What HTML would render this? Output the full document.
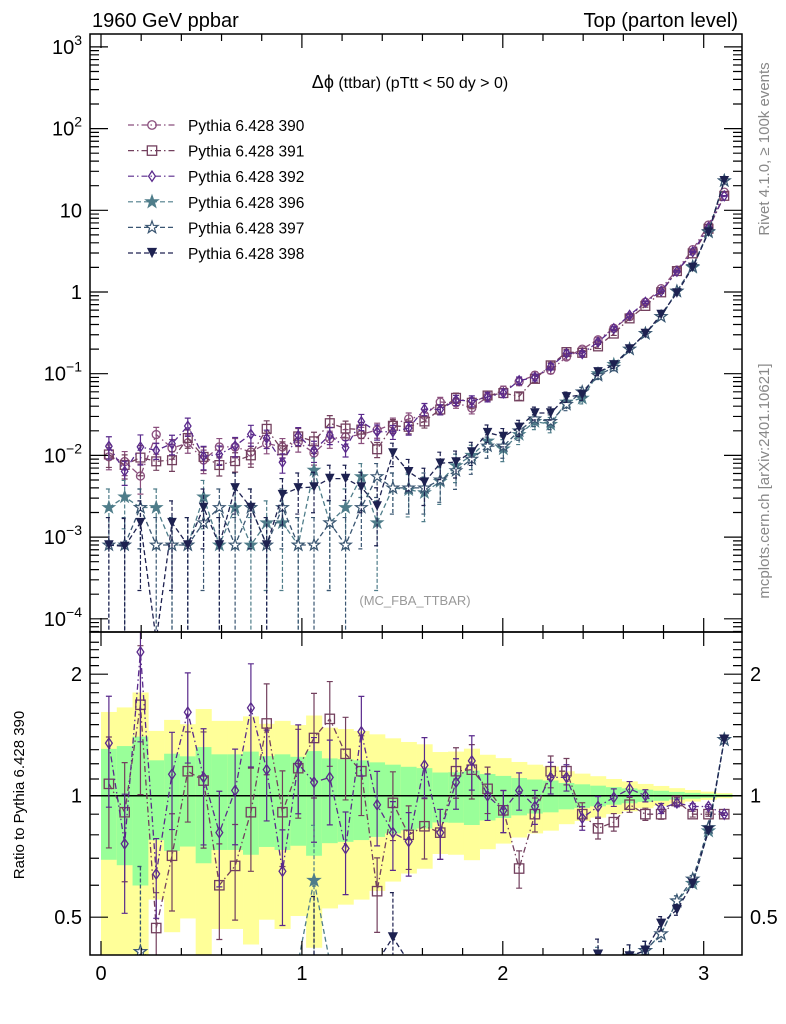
<!DOCTYPE html>
<html><head><meta charset="utf-8">
<style>
html,body{margin:0;padding:0;background:#fff;width:786px;height:1024px;overflow:hidden;}
svg{display:block;font-family:"Liberation Sans",sans-serif;}
</style></head>
<body>
<svg id="chart" width="786" height="1024" viewBox="0 0 786 1024">
<defs>
<clipPath id="clipMain"><rect x="90" y="34" width="652" height="598"/></clipPath>
<clipPath id="clipRatio"><rect x="90" y="632" width="652" height="323"/></clipPath>
</defs>
<g id="bands" clip-path="url(#clipRatio)"></g>
<g id="mainSeries" clip-path="url(#clipMain)"></g>
<g id="ratioSeries" clip-path="url(#clipRatio)"></g>
<g id="axes"></g>
<text x="92" y="27" font-size="20">1960 GeV ppbar</text>
<text x="738" y="27" font-size="20" text-anchor="end">Top (parton level)</text>
<text x="410" y="88" font-size="16" text-anchor="middle"><tspan font-size="18">Δϕ</tspan> (ttbar) (pTtt &lt; 50 dy &gt; 0)</text>
<text x="415" y="605" font-size="13" fill="#999" text-anchor="middle">(MC_FBA_TTBAR)</text>
<text transform="translate(769,149) rotate(-90)" font-size="15" fill="#888" text-anchor="middle">Rivet 4.1.0, ≥ 100k events</text>
<text transform="translate(769,481) rotate(-90)" font-size="15" fill="#888" text-anchor="middle">mcplots.cern.ch [arXiv:2401.10621]</text>
<text transform="translate(24,795) rotate(-90)" font-size="15" text-anchor="middle">Ratio to Pythia 6.428 390</text>
<g id="legend"></g>
</svg>
<script>
const nBins = 40;
const binWidth = Math.PI / 40;
const labels = ["Pythia 6.428 390","Pythia 6.428 391","Pythia 6.428 392","Pythia 6.428 396","Pythia 6.428 397","Pythia 6.428 398"];
const v390 = [0.0096,0.0084,0.0056,0.018,0.0123,0.0142,0.0088,0.0127,0.0127,0.011,0.014,0.0127,0.0146,0.0107,0.016,0.0168,0.018,0.0205,0.024,0.028,0.031,0.045,0.044,0.038,0.052,0.063,0.08,0.096,0.11,0.16,0.2,0.26,0.36,0.5,0.75,1.1,1.86,3.3,6.6,16.7];
const r391 = [1.07,0.91,1.68,0.47,0.71,1.15,1.09,0.60,0.67,0.91,1.51,0.91,1.17,1.39,1.55,1.27,1.15,0.58,0.96,0.80,0.84,0.81,1.15,1.16,1.04,0.92,0.66,0.9,1.15,1.15,0.9,0.83,0.86,0.95,0.9,0.9,0.97,0.9,0.9,0.9];
const r392 = [1.35,0.76,2.27,0.64,1.13,1.61,1.11,0.81,1.03,1.65,1.16,0.65,1.2,1.08,1.11,0.74,1.44,0.95,0.81,0.77,1.19,0.81,1.08,1.22,1.0,0.92,1.03,0.94,1.11,1.11,0.88,0.94,0.99,1.04,1.0,0.93,0.96,0.94,0.94,0.9];
const v396 = [0.0023,0.0031,0.0023,0.0023,0.0008,0.0008,0.0031,0.0008,0.0023,0.0008,0.0015,0.0015,0.0008,0.0066,0.0015,0.0023,0.0055,0.0015,0.004,0.0038,0.0035,0.0048,0.0075,0.01,0.015,0.012,0.018,0.026,0.024,0.045,0.05,0.1,0.13,0.2,0.31,0.5,1.02,2.0,5.4,23];
const v397 = [0.0008,0.0008,0.0023,0.0008,0.0008,0.0008,0.0015,0.0023,0.0008,0.0023,0.0008,0.0023,0.0008,0.0008,0.0015,0.0008,0.0023,0.0055,0.004,0.004,0.004,0.005,0.0065,0.009,0.013,0.013,0.02,0.028,0.026,0.042,0.06,0.095,0.12,0.2,0.31,0.5,1.02,2.05,5.5,23];
const v398 = [0.0008,0.00077,0.0015,0,0.0015,0.0008,0.0023,0.0008,0.004,0.0023,0.0008,0.0033,0.004,0.0041,0.0052,0.0052,0.0041,0.0024,0.0107,0.0063,0.0047,0.008,0.0083,0.011,0.019,0.017,0.022,0.033,0.033,0.052,0.055,0.105,0.128,0.2,0.31,0.53,0.97,2.0,5.4,23];
const mainTicks = [1e3,1e2,10,1,0.1,0.01,0.001,0.0001];
const mainTickLabels = ["10^3","10^2","10","1","10^-1","10^-2","10^-3","10^-4"];
const ratioTicks = [2,1,0.5];
const ratioTickLabels = ["2","1","0.5"];
const xTicks = [0,1,2,3];

const NS="http://www.w3.org/2000/svg";
const X0=101, XS=200.9;
function xp(x){return X0+XS*x;}
function ym(v){return Math.min(640,292-81.7*Math.log10(v));}
function yr(r){return Math.max(625,Math.min(962,795.7-121.5*Math.log2(r)));}
function mk(tag,attrs,parent){const e=document.createElementNS(NS,tag);for(const k in attrs)e.setAttribute(k,attrs[k]);parent.appendChild(e);return e;}

const colors=["#8a4f7d","#73405e","#5a2a8c","#4f7d8a","#3a5672","#1d2150"];
const dashes=["6,3,1.5,3","6,3,1.5,3","6,3,1.5,3","5,3","5,3","5,3"];
const markers=["circle","square","diamond","starf","staro","tri"];
function relErr(v){return Math.min(1.3,0.03/Math.sqrt(v));}
function drawMarker(type,x,y,c,g,s){
  let e;
  if(type==="circle") e=mk('circle',{cx:x,cy:y,r:5*s,fill:'none',stroke:c,'stroke-width':1.3},g);
  else if(type==="square") e=mk('rect',{x:x-5.5*s,y:y-5.5*s,width:11*s,height:11*s,fill:'none',stroke:c,'stroke-width':1.3},g);
  else if(type==="diamond") e=mk('polygon',{points:`${x},${y-6*s} ${x+4*s},${y} ${x},${y+6*s} ${x-4*s},${y}`,fill:'none',stroke:c,'stroke-width':1.3},g);
  else if(type==="tri") e=mk('polygon',{points:`${x-6*s},${y-6*s} ${x+6*s},${y-6*s} ${x},${y+6*s}`,fill:c},g);
  else {
    let p=[];for(let k=0;k<10;k++){const a=-Math.PI/2+k*Math.PI/5;const rr=(k%2?3:7.5)*s;p.push((x+rr*Math.cos(a)).toFixed(1)+","+(y+rr*Math.sin(a)).toFixed(1));}
    e=mk('polygon',{points:p.join(' '),fill:type==="starf"?c:'#fff',stroke:c,'stroke-width':1.2},g);
  }
  return e;
}
const seriesVals=[v390,v390.map((v,i)=>v*r391[i]),v390.map((v,i)=>v*r392[i]),v396,v397,v398];
const seriesIds=["390","391","392","396","397","398"];
const gMain=document.getElementById('mainSeries');
const gRatio=document.getElementById('ratioSeries');
const gBands=document.getElementById('bands');

for(let i=0;i<nBins;i++){
  const e=relErr(v390[i]);
  const x1=xp(i*binWidth), x2=xp((i+1)*binWidth);
  const lo2=Math.max(0.05,1-2*e), lo1=Math.max(0.05,1-e);
  const b1=mk('rect',{x:x1,y:yr(1+2*e),width:x2-x1+0.3,height:yr(lo2)-yr(1+2*e),fill:'#ffff99'},gBands);
  
  
  const b2=mk('rect',{x:x1,y:yr(1+e),width:x2-x1+0.3,height:yr(lo1)-yr(1+e),fill:'#99ff99'},gBands);
  
  
}
mk('line',{x1:90,x2:742,y1:yr(1),y2:yr(1),stroke:'#000','stroke-width':1.5},gRatio);

seriesVals.forEach((vals,si)=>{
  const c=colors[si];
  const g=mk('g',{},gMain);
  
  
  const gr=mk('g',{},gRatio);
  
  
  let pts=[],rpts=[];
  vals.forEach((v,i)=>{
    const x=xp((i+0.5)*binWidth);
    const vv=v>0?v:1e-6;
    pts.push(x.toFixed(1)+","+ym(vv).toFixed(1));
    const r=vv/v390[i];
    rpts.push(x.toFixed(1)+","+yr(r).toFixed(1));
  });
  const l=mk('polyline',{points:pts.join(' '),fill:'none',stroke:c,'stroke-width':1.3,'stroke-dasharray':dashes[si]},g);
  
  
  if(si>0){
    const lr=mk('polyline',{points:rpts.join(' '),fill:'none',stroke:c,'stroke-width':1.3,'stroke-dasharray':dashes[si]},gr);
    
    
  }
  vals.forEach((v,i)=>{
    if(v<=0) return;
    const x=xp((i+0.5)*binWidth);
    const e=si<3?relErr(v390[i]):relErr(v)*1.1;
    const yT=ym(v*(1+e)), yB=v*(1-e)>0?ym(v*(1-e)):640;
    const eb=mk('path',{d:`M${x},${yT}V${yB}M${x-3},${yT}H${x+3}`+(yB<630?`M${x-3},${yB}H${x+3}`:''),stroke:c,'stroke-width':1.2,fill:'none','stroke-dasharray':si<3?'none':'4,2'},g);
    
    
    const m=drawMarker(markers[si],x,ym(v),c,g,0.8);
    
    
    if(si>0){
      const r=v/v390[i];
      if(si>=3 && r<0.38) return;
      const re=si<3?relErr(v390[i]):relErr(v);
      const rT=yr(r*(1+re)), rB=r*(1-re)>0?yr(r*(1-re)):962;
      const er=mk('path',{d:`M${x},${rT}V${rB}M${x-3},${rT}H${x+3}M${x-3},${rB}H${x+3}`,stroke:c,'stroke-width':1.2,fill:'none','stroke-dasharray':si<3?'none':'4,2'},gr);
      
      
      const mr=drawMarker(markers[si],x,yr(r),c,gr,0.85);
      
      
    }
  });
});

const gA=document.getElementById('axes');
const f1=mk('rect',{x:90,y:34,width:652,height:598,fill:'none',stroke:'#000','stroke-width':1.5},gA);


const f2=mk('rect',{x:90,y:632,width:652,height:323,fill:'none',stroke:'#000','stroke-width':1.5},gA);


let d='';
for(let dec=-5;dec<=3;dec++){
  for(let m=1;m<10;m++){
    const v=m*Math.pow(10,dec);const y=292-81.7*Math.log10(v);
    if(y<34||y>632) continue;
    const L=m===1?18:9;
    d+=`M90,${y}h${L}M742,${y}h${-L}`;
  }
}
for(let k=0;k<=16;k++){
  const x=xp(k*0.2);if(x>742)continue;
  const big=(Math.abs(k*0.2-Math.round(k*0.2))<1e-6);
  const L=big?14:7;
  d+=`M${x},34v${L}M${x},632v${-L}M${x},632v${L}M${x},955v${-L}`;
}
for(let r=0.4;r<=2.5;r+=0.1){
  const y=795.7-121.5*Math.log2(r);if(y<632||y>955)continue;
  const big=[0.5,1,2].some(t=>Math.abs(t-r)<1e-6);
  const L=big?18:9;
  d+=`M90,${y}h${L}M742,${y}h${-L}`;
}
mk('path',{d:d,stroke:'#000','stroke-width':1.2,fill:'none'},gA);

mainTicks.forEach((v,i)=>{
  const y=ym(v);const lab=mainTickLabels[i];
  const t=mk('text',{x:82,y:y+7,'font-size':20,'text-anchor':'end'},gA);
  
  
  if(lab.indexOf('^')>=0){
    const [b,e]=lab.split('^');
    const s1=document.createElementNS(NS,'tspan');s1.textContent=b;t.appendChild(s1);
    const s2=document.createElementNS(NS,'tspan');s2.setAttribute('dy','-9');s2.setAttribute('font-size','14');s2.textContent=e.replace('-','−');t.appendChild(s2);
  } else t.textContent=lab;
});
ratioTicks.forEach((r,i)=>{
  const y=yr(r);
  const t=mk('text',{x:82,y:y+7,'font-size':20,'text-anchor':'end'},gA);
  t.textContent=ratioTickLabels[i];
  
  
  const t2=mk('text',{x:750,y:y+7,'font-size':20},gA);
  t2.textContent=ratioTickLabels[i];
  
  
});
xTicks.forEach(v=>{
  const t=mk('text',{x:xp(v),y:980,'font-size':20,'text-anchor':'middle'},gA);
  t.textContent=String(v);
  
  
});

const gL=document.getElementById('legend');
labels.forEach((lab,i)=>{
  const y=125+25.6*i;
  const g=mk('g',{},gL);
  
  
  mk('line',{x1:128,x2:176,y1:y,y2:y,stroke:colors[i],'stroke-width':1.2,'stroke-dasharray':dashes[i]},g);
  drawMarker(markers[i],152,y,colors[i],g,0.85);
  const t=mk('text',{x:188,y:y+6,'font-size':15.5},g);
  t.textContent=lab;
});
</script>
</body></html>
